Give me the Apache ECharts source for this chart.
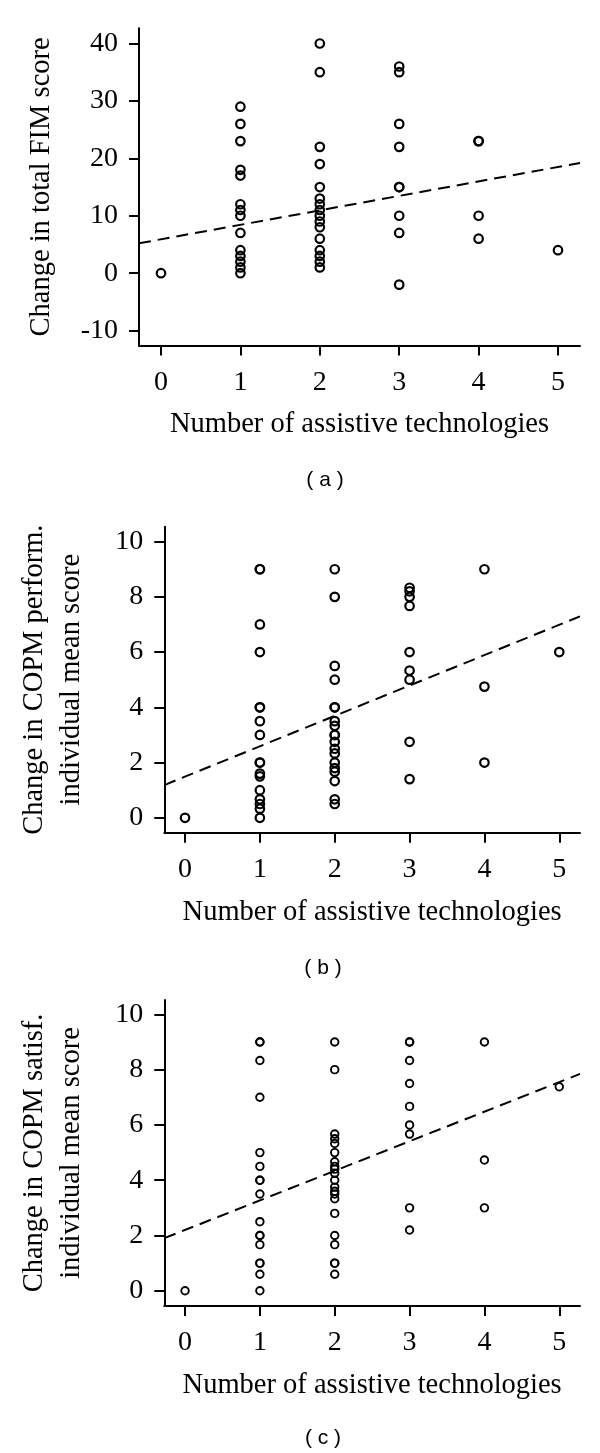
<!DOCTYPE html>
<html>
<head>
<meta charset="utf-8">
<script src="https://cdn.jsdelivr.net/npm/echarts@6/dist/echarts.min.js"></script>
<style>
html,body{margin:0;padding:0;background:#fff;}
#chart{width:600px;height:1453px;}
</style>
</head>
<body>
<div id="chart"></div>
<script>
// Number of assistive technologies (x categories)
const atCounts = [0, 1, 2, 3, 4, 5];
const xTicks = [0, 1, 2, 3, 4, 5];

// (a) Change in total FIM score, grouped by number of assistive technologies
const fimValues = [
  [0],
  [29, 26, 23, 18, 17, 12, 11, 10, 7, 4, 3, 2, 1, 0],
  [40, 35, 22, 19, 15, 13, 12, 11, 10, 9, 8, 6, 4, 3, 2, 1],
  [36, 35, 26, 22, 15, 15, 10, 7, -2],
  [23, 23, 10, 6],
  [4]
];
const fimTicks = [-10, 0, 10, 20, 30, 40];
const fimFit = [5.9, 2.52]; // intercept, slope

// (b) Change in COPM performance, individual mean score
const perfValues = [
  [0],
  [9, 9, 7, 6, 4, 4, 3.5, 3, 2, 2, 1.6, 1.5, 1, 0.67, 0.5, 0.33, 0],
  [9, 8, 5.5, 5, 4, 4, 3.5, 3.33, 3, 3, 2.75, 2.5, 2.33, 2, 1.8, 1.67, 1.33, 0.67, 0.5],
  [8.33, 8.2, 8, 7.67, 6, 5.33, 5, 2.75, 1.4],
  [9, 4.75, 2],
  [6]
];
const perfTicks = [0, 2, 4, 6, 8, 10];
const perfFit = [1.49, 1.10];

// (c) Change in COPM satisfaction, individual mean score
const satValues = [
  [0],
  [9, 9, 8.33, 7, 5, 4.5, 4, 4, 3.5, 2.5, 2, 2, 1.67, 1, 1, 0.6, 0],
  [9, 8, 5.67, 5.5, 5.33, 5, 4.67, 4.5, 4.4, 4.25, 4, 3.75, 3.6, 3.5, 3.33, 2.8, 2, 1.67, 1, 1, 0.6],
  [9, 9, 8.33, 7.5, 6.67, 6, 5.67, 3, 2.2],
  [9, 4.73, 3],
  [7.38]
];
const satTicks = [0, 2, 4, 6, 8, 10];
const satFit = [2.2, 1.07];

const xTitle = 'Number of assistive technologies';
const yTitles = ['Change in total FIM score', 'Change in COPM perform.\nindividual mean score', 'Change in COPM satisf.\nindividual mean score'];
const panelLabels = ['( a )', '( b )', '( c )'];

const serif = "'Liberation Serif', 'Times New Roman', serif";
const XMIN = -0.277, XMAX = 5.277;

const panels = [
  {vals: fimValues, ticks: fimTicks, fit: fimFit, ymin: -12.6, ymax: 42.65,
   grid: {left: 139, top: 28.3, width: 441, height: 317.2}, nameGap: 79, sym: 8.5, bw: 2.2, label: {x: 325, y: 480}},
  {vals: perfValues, ticks: perfTicks, fit: perfFit, ymin: -0.54, ymax: 10.54,
   grid: {left: 164.3, top: 526.7, width: 415.7, height: 306}, nameGap: 74, sym: 8.5, bw: 2.2, label: {x: 323, y: 968}},
  {vals: satValues, ticks: satTicks, fit: satFit, ymin: -0.55, ymax: 10.52,
   grid: {left: 164.3, top: 1000, width: 415.7, height: 306}, nameGap: 74, sym: 7.5, bw: 1.9, label: {x: 323, y: 1438}}
];

const grids = [], xAxes = [], yAxes = [], series = [], graphics = [];
panels.forEach((p, i) => {
  grids.push(Object.assign({outerBoundsMode: 'none', containLabel: false}, p.grid));
  xAxes.push({
    type: 'value', gridIndex: i, min: XMIN, max: XMAX,
    axisLine: {show: true, onZero: false, lineStyle: {color: '#000', width: 2}},
    axisTick: {show: true, customValues: xTicks, length: 10, lineStyle: {color: '#000', width: 2}},
    axisLabel: {customValues: xTicks, margin: 23, color: '#000', fontFamily: serif, fontSize: 28},
    splitLine: {show: false},
    name: xTitle, nameLocation: 'middle', nameGap: 65,
    nameTextStyle: {color: '#000', fontFamily: serif, fontSize: 28.5}
  });
  yAxes.push({
    type: 'value', gridIndex: i, min: p.ymin, max: p.ymax,
    axisLine: {show: true, onZero: false, lineStyle: {color: '#000', width: 2}},
    axisTick: {show: true, customValues: p.ticks, length: 10, lineStyle: {color: '#000', width: 2}},
    axisLabel: {customValues: p.ticks, margin: 21, color: '#000', fontFamily: serif, fontSize: 28},
    splitLine: {show: false},
    name: yTitles[i], nameLocation: 'middle', nameGap: p.nameGap,
    nameTextStyle: {color: '#000', fontFamily: serif, fontSize: 28.5, lineHeight: 37, align: 'center'}
  });
  const pts = [];
  atCounts.forEach((n, k) => p.vals[k].forEach(v => pts.push([n, v])));
  series.push({
    type: 'scatter', xAxisIndex: i, yAxisIndex: i, data: pts,
    symbol: 'circle', symbolSize: p.sym,
    itemStyle: {color: 'rgba(0,0,0,0)', borderColor: '#000', borderWidth: p.bw, opacity: 1},
    silent: true, z: 3
  });
  series.push({
    type: 'line', xAxisIndex: i, yAxisIndex: i,
    data: [[XMIN, p.fit[0] + p.fit[1] * XMIN], [XMAX, p.fit[0] + p.fit[1] * XMAX]],
    symbol: 'none', clip: true, silent: true, z: 2,
    lineStyle: {color: '#000', width: 2, type: [12, 7]}
  });
  graphics.push({
    type: 'text', x: p.label.x, y: p.label.y,
    style: {text: panelLabels[i], fill: '#000', font: "21px 'Liberation Sans', Arial, sans-serif", align: 'center', verticalAlign: 'middle'}
  });
});

const chart = echarts.init(document.getElementById('chart'), null, {renderer: 'canvas'});
chart.setOption({
  animation: false,
  backgroundColor: '#fff',
  grid: grids, xAxis: xAxes, yAxis: yAxes, series: series, graphic: graphics
});
</script>
</body>
</html>
